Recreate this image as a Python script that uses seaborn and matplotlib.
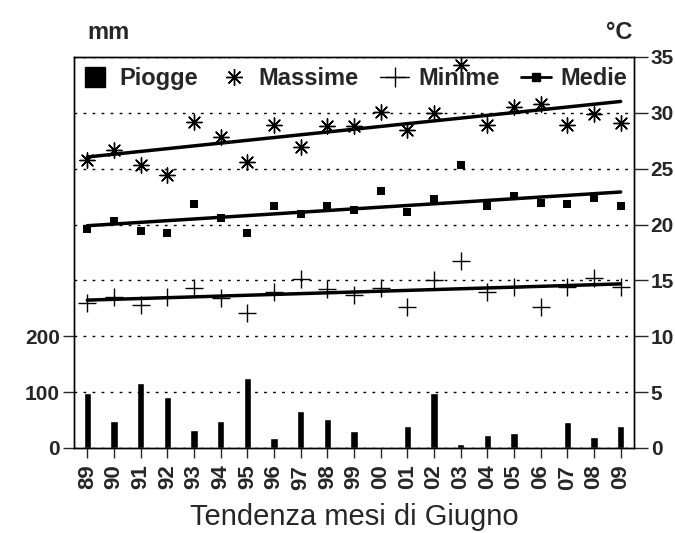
import numpy as np
import pandas as pd
import matplotlib
matplotlib.use('Agg')
import matplotlib.pyplot as plt
import seaborn as sns
from matplotlib.lines import Line2D

# Dati - mesi di giugno 1989-2009
anni = ['89', '90', '91', '92', '93', '94', '95', '96', '97', '98', '99',
        '00', '01', '02', '03', '04', '05', '06', '07', '08', '09']
piogge = [99, 49, 116, 91, 33, 49, 125, 17, 67, 51, 31,
          0, 40, 99, 8, 24, 27, 2, 47, 19, 40]
massime = [25.8, 26.7, 25.3, 24.4, 29.2, 27.8, 25.6, 28.9, 26.9, 28.8, 28.8,
           30.1, 28.5, 30.0, 34.3, 28.9, 30.5, 30.8, 28.9, 29.9, 29.1]
minime = [13.0, 13.5, 12.8, 13.5, 14.3, 13.4, 12.1, 14.0, 15.1, 14.2, 13.7,
          14.3, 12.6, 15.0, 16.7, 14.0, 14.4, 12.6, 14.4, 15.2, 14.4]
medie = [19.6, 20.3, 19.4, 19.2, 21.8, 20.6, 19.2, 21.7, 20.9, 21.7, 21.3,
         23.0, 21.1, 22.3, 25.3, 21.7, 22.6, 21.9, 21.8, 22.4, 21.7]

sns.set_theme(style='white')
plt.rcParams['font.family'] = ['Liberation Sans', 'DejaVu Sans']
plt.rcParams['font.weight'] = 'bold'

df = pd.DataFrame({'anno': anni, 'pos': np.arange(len(anni)),
                   'piogge': piogge, 'massime': massime,
                   'minime': minime, 'medie': medie})

fig = plt.figure(figsize=(6.75, 5.33), dpi=100)
ax = fig.add_axes([0.1096, 0.1595, 0.8296, 0.7336])
ax2 = ax.twinx()

# Piogge (asse sinistro, mm)
sns.barplot(data=df, x='anno', y='piogge', color='black', width=0.27,
            saturation=1, ax=ax)
ax.set_ylim(0, 700)
ax.set_yticks([0, 100, 200])
ax.set_xlim(-0.5, len(anni) - 0.5)
ax.set_xlabel('Tendenza mesi di Giugno', fontsize=21, fontweight='normal', labelpad=10)
ax.set_ylabel('')
ax.set_xticks(range(len(anni)))
ax.set_xticklabels(anni, rotation=90, fontsize=16, fontweight='bold')
ax.tick_params(axis='y', labelsize=15, length=8, width=1, direction='out', pad=2, left=True)
ax.tick_params(axis='x', length=7, width=1, direction='out', pad=5, bottom=True)

# Temperature (asse destro, °C)
ax2.set_ylim(0, 35)
ax2.set_yticks(range(0, 36, 5))
ax2.tick_params(axis='y', labelsize=15, length=10, width=1, direction='out', pad=2, right=True)
ax2.grid(axis='y', linestyle=(0, (2, 4.5)), color='black', linewidth=1)
ax2.set_ylabel('')

sns.scatterplot(data=df, x='pos', y='massime', marker=(8, 2, 0), s=120,
                color='black', linewidth=1, ax=ax2)
sns.scatterplot(data=df, x='pos', y='minime', marker='+', s=150,
                color='black', linewidth=1, ax=ax2)
sns.scatterplot(data=df, x='pos', y='medie', marker='s', s=40,
                color='black', linewidth=0, ax=ax2)
for col in ['massime', 'minime', 'medie']:
    sns.regplot(data=df, x='pos', y=col, scatter=False, ci=None, color='black',
                line_kws={'linewidth': 2.5}, ax=ax2)
ax2.set_xlim(-0.5, len(anni) - 0.5)
ax2.set_ylabel('')
ax2.set_xlabel('')

for a in (ax, ax2):
    for s in a.spines.values():
        s.set_color('black')
        s.set_linewidth(1)

handles = [
    Line2D([], [], marker='s', markersize=15, color='black', linestyle='none'),
    Line2D([], [], marker=(8, 2, 0), markersize=12, color='black', linestyle='none', markeredgewidth=1),
    Line2D([], [], marker='+', markersize=15, color='black', linestyle='-', linewidth=1, markeredgewidth=1),
    Line2D([], [], marker='s', markersize=6, color='black', linestyle='-', linewidth=2),
]
ax2.legend(handles, ['Piogge', 'Massime', 'Minime', 'Medie'], ncol=4,
           loc='upper center', bbox_to_anchor=(0.5, 1.01), frameon=False,
           prop={'weight': 'bold', 'size': 17}, handlelength=1.25,
           handletextpad=0.4, columnspacing=0.9, borderaxespad=0.2)

fig.text(0.129, 0.927, 'mm', fontsize=17, fontweight='bold', va='baseline')
fig.text(0.898, 0.927, '°C', fontsize=17, fontweight='bold', va='baseline')

fig.savefig('out.png', dpi=100)
